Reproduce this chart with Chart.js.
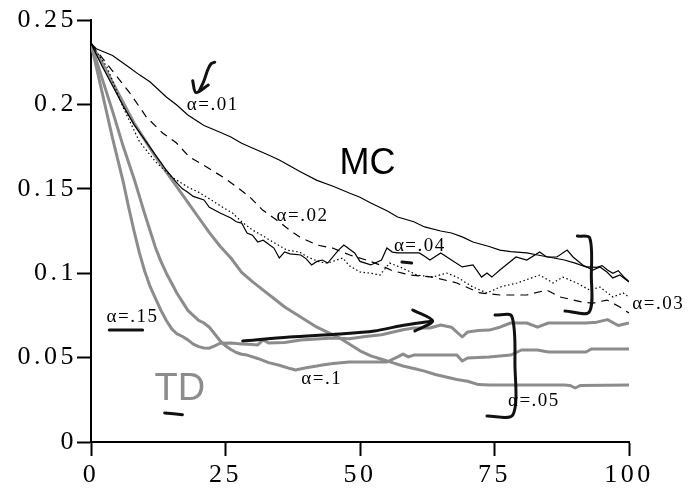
<!DOCTYPE html>
<html>
<head>
<meta charset="utf-8">
<script src="https://cdn.jsdelivr.net/npm/chart.js@4.4.1/dist/chart.umd.min.js"></script>
<style>
  html, body { margin: 0; padding: 0; background: #fff; }
  #wrap { width: 697px; height: 500px; }
</style>
</head>
<body>
<div id="wrap"><canvas id="chart" width="697" height="500"></canvas></div>
<script>
const xTickLabels = ['0', '25', '50', '75', '100'];
const yTickLabels = ['0', '0.05', '0.1', '0.15', '0.2', '0.25'];

// MC, alpha = .01 (solid)
const mc01Episodes = [0, 1, 4, 7, 9, 11, 14, 16, 18, 21, 24, 26, 28, 30, 33, 35, 37, 39, 42, 45, 48, 50, 52, 55, 57, 60, 62, 65, 67, 69, 71, 74, 76, 78, 81, 83, 86, 88, 90, 92, 94, 95, 96, 97, 98, 99, 100];
const mc01Values = [0.236, 0.233, 0.229, 0.2222, 0.2175, 0.2133, 0.2044, 0.1995, 0.1937, 0.1875, 0.1835, 0.1807, 0.177, 0.1742, 0.170, 0.1671, 0.1635, 0.160, 0.155, 0.1515, 0.1475, 0.145, 0.1416, 0.137, 0.1333, 0.1305, 0.1274, 0.125, 0.1238, 0.1215, 0.1185, 0.1158, 0.1137, 0.1128, 0.112, 0.1108, 0.109, 0.1078, 0.106, 0.1037, 0.1035, 0.1045, 0.1019, 0.100, 0.1015, 0.098, 0.095];

// MC, alpha = .02 (dashed)
const mc02Episodes = [0, 3.4, 7.2, 10.3, 13.3, 15.9, 18.3, 21.5, 24.5, 27.1, 29.5, 31.9, 34.5, 36.9, 38.8, 42, 44.9, 48.1, 51, 53.7, 56, 59.3, 63.5, 68, 72.3, 76, 81, 84.7, 87.2, 91.4, 93.3, 95.9, 98.3, 100];
const mc02Values = [0.236, 0.2222, 0.2068, 0.1925, 0.1831, 0.1771, 0.1688, 0.1629, 0.157, 0.1511, 0.1452, 0.1374, 0.1315, 0.1256, 0.1214, 0.1167, 0.1149, 0.1108, 0.108, 0.1049, 0.1015, 0.0989, 0.0977, 0.0942, 0.0883, 0.0871, 0.0871, 0.090, 0.0859, 0.0829, 0.0823, 0.0841, 0.080, 0.0764];

// MC, alpha = .03 (dotted)
const mc03Episodes = [0, 3, 6, 9, 12, 15, 18, 20, 21.5, 24, 26.3, 28, 30, 32, 33.8, 36.4, 38.8, 40, 42.5, 44, 46.8, 48, 50, 52, 53.7, 55.5, 57.4, 60.6, 63.5, 66.1, 68, 71, 73.6, 76, 79.2, 83.4, 85.9, 87.7, 90.3, 92.7, 94.6, 97, 98.9, 100];
const mc03Values = [0.236, 0.222, 0.198, 0.178, 0.166, 0.157, 0.151, 0.148, 0.1451, 0.140, 0.1357, 0.1305, 0.1256, 0.122, 0.1185, 0.1137, 0.1125, 0.110, 0.1066, 0.106, 0.109, 0.1045, 0.1007, 0.100, 0.0989, 0.106, 0.1037, 0.0989, 0.0977, 0.1001, 0.0977, 0.0918, 0.0883, 0.0918, 0.0942, 0.0989, 0.0942, 0.0977, 0.0942, 0.090, 0.0918, 0.0859, 0.0883, 0.0859];

// MC, alpha = .04 (solid)
const mc04Episodes = [0, 2, 4, 6, 8, 10, 12, 14, 16, 17, 18, 19, 21, 22, 24, 26, 27, 28, 29, 30, 31, 32, 34, 35, 36, 37, 39, 40, 41, 42, 43, 44, 46, 47, 49, 50, 51, 52, 54, 55, 56, 57, 59, 61, 62, 63, 65, 67, 69, 71, 72.6, 73.6, 74.5, 76, 79, 81, 83.4, 84.7, 86.6, 88.5, 89.6, 91.4, 93.3, 94.6, 95.9, 97, 98.3, 100];
const mc04Values = [0.236, 0.223, 0.211, 0.199, 0.188, 0.179, 0.170, 0.161, 0.1534, 0.150, 0.148, 0.1455, 0.1434, 0.139, 0.1357, 0.1327, 0.1305, 0.1297, 0.1238, 0.1225, 0.1185, 0.1195, 0.1149, 0.109, 0.1126, 0.1115, 0.1108, 0.1085, 0.1049, 0.107, 0.1078, 0.106, 0.1137, 0.1167, 0.112, 0.107, 0.106, 0.1049, 0.1078, 0.1149, 0.1125, 0.112, 0.112, 0.112, 0.110, 0.1078, 0.112, 0.1078, 0.1037, 0.1049, 0.0977, 0.1001, 0.0977, 0.1019, 0.1096, 0.1078, 0.1126, 0.1096, 0.1096, 0.1137, 0.1096, 0.1049, 0.1019, 0.1037, 0.1007, 0.0972, 0.0989, 0.0948];

// TD, alpha = .15
const td15Episodes = [0, 1, 2, 3, 4, 5, 6, 7, 8, 9, 10, 11, 12, 13, 14, 15, 16, 17, 18, 19, 20, 21, 22, 23, 24, 26, 28, 30, 31, 32, 33, 36, 39, 42, 45, 48, 51, 54, 56, 58, 60, 63, 65, 67, 69, 70, 72, 74, 76, 78, 81, 83, 85, 88, 92, 94, 96, 98, 100];
const td15Values = [0.236, 0.222, 0.208, 0.194, 0.180, 0.167, 0.154, 0.139, 0.125, 0.112, 0.101, 0.092, 0.085, 0.078, 0.072, 0.067, 0.064, 0.0625, 0.0605, 0.058, 0.0565, 0.0557, 0.0556, 0.057, 0.0585, 0.0586, 0.058, 0.0577, 0.0575, 0.0605, 0.0586, 0.059, 0.0604, 0.061, 0.0616, 0.0612, 0.0625, 0.0635, 0.065, 0.0665, 0.0675, 0.0675, 0.0693, 0.068, 0.0622, 0.0652, 0.066, 0.0663, 0.068, 0.0705, 0.0705, 0.068, 0.0705, 0.0705, 0.0705, 0.071, 0.0725, 0.069, 0.0705];

// TD, alpha = .1
const td10Episodes = [0, 2, 4, 6, 8, 10, 11, 12, 13, 14, 15, 16, 17, 18, 19, 20, 21, 22, 23, 24, 25, 26, 27, 28, 29, 31, 33, 35, 37, 38, 40, 42, 43, 45, 48, 52, 55, 57, 58, 59, 60, 64, 68, 69, 70, 74, 78, 80, 83, 85, 92, 93, 100];
const td10Values = [0.236, 0.216, 0.196, 0.175, 0.156, 0.135, 0.125, 0.115, 0.107, 0.100, 0.094, 0.088, 0.083, 0.078, 0.075, 0.072, 0.0705, 0.068, 0.064, 0.060, 0.057, 0.0548, 0.053, 0.052, 0.0515, 0.0495, 0.047, 0.0455, 0.0435, 0.0427, 0.044, 0.045, 0.0456, 0.0465, 0.0474, 0.0474, 0.0474, 0.0504, 0.0521, 0.0504, 0.0515, 0.0515, 0.0515, 0.048, 0.0498, 0.0504, 0.0515, 0.0545, 0.0545, 0.0533, 0.0533, 0.0551, 0.0551];

// TD, alpha = .05
const td05Episodes = [0, 2, 4, 6, 8, 10, 12, 14, 16, 18, 20, 22, 24, 26, 28, 30, 32, 34, 36, 38, 40, 42, 44, 46, 48, 50, 52, 54, 56, 58, 60, 62, 64, 66, 68, 70, 72, 74, 80, 88, 89, 90, 91, 100];
const td05Values = [0.236, 0.225, 0.213, 0.201, 0.189, 0.179, 0.169, 0.160, 0.151, 0.142, 0.133, 0.124, 0.116, 0.109, 0.1005, 0.095, 0.090, 0.085, 0.080, 0.076, 0.072, 0.068, 0.065, 0.062, 0.058, 0.054, 0.051, 0.049, 0.047, 0.045, 0.0435, 0.042, 0.040, 0.0385, 0.037, 0.036, 0.034, 0.0338, 0.0338, 0.0338, 0.0335, 0.032, 0.0335, 0.0338];

// hand-drawn pen marks, in episode / error units
const arrowShaft = [[28.2, 0.0598], [36.9, 0.0622], [46.2, 0.064], [52.7, 0.0658], [57.4, 0.0687], [63.5, 0.0717]];
const arrowHead = [[59.8, 0.0782], [63.5, 0.0717], [60.2, 0.0658]];
const bracketMc = [[90.4, 0.122], [92.7, 0.1209], [93.0, 0.0989], [92.6, 0.077], [88.1, 0.0776]];
const bracketTd = [[75.1, 0.0752], [78.2, 0.0746], [78.8, 0.0456], [78.4, 0.016], [73.6, 0.0154]];
const underline15 = [[3.4, 0.0664], [9.6, 0.0664]];
const underlineTd = [[13.7, 0.0172], [17.0, 0.0162]];
const underline04 = [[57.8, 0.1066], [59.6, 0.106]];
const squiggle = [[23.0, 0.2250], [22.3, 0.2240], [21.7, 0.2205], [21.0, 0.2140], [20.2, 0.2085]];
const squiggleTip = [[18.9, 0.2140], [19.5, 0.2070], [21.8, 0.2115]];

// text labels: text, episode, error (left / baseline anchor)
const noteLabels = [
    { text: 'α=.01', ep: 17.8, val: 0.1967, kind: 'alpha' },
    { text: 'α=.02', ep: 34.5, val: 0.131, kind: 'alpha' },
    { text: 'α=.04', ep: 56.3, val: 0.1131, kind: 'alpha' },
    { text: 'α=.03', ep: 100.6, val: 0.0788, kind: 'alpha' },
    { text: 'α=.15', ep: 2.9, val: 0.0711, kind: 'alpha' },
    { text: 'α=.1', ep: 39.1, val: 0.0344, kind: 'alpha' },
    { text: 'α=.05', ep: 77.5, val: 0.0213, kind: 'alpha' },
    { text: 'MC', ep: 46.2, val: 0.1588, kind: 'mc' },
    { text: 'TD', ep: 11.8, val: 0.0249, kind: 'td' }
];

const GRAY = '#8c8c8c';
const INK = '#111111';

const labelStyles = {
    alpha: { font: '19px "Liberation Serif"', color: '#000', spacing: '1.5px' },
    mc: { font: '36px "Liberation Sans"', color: '#000', spacing: '0px' },
    td: { font: '38px "Liberation Sans"', color: GRAY, spacing: '0px' }
};

function toPoints(eps, vals) {
    return eps.map((e, i) => ({ x: e, y: vals[i] }));
}

function pairsToPoints(pairs) {
    return pairs.map(p => ({ x: p[0], y: p[1] }));
}

function penMark(pairs) {
    return {
        data: pairsToPoints(pairs),
        borderColor: INK,
        borderWidth: 3,
        borderCapStyle: 'round',
        borderJoinStyle: 'round',
        tension: 0.3,
        pointRadius: 0
    };
}

function mcLine(eps, vals, dash) {
    return {
        data: toPoints(eps, vals),
        borderColor: '#000',
        borderWidth: 1.2,
        borderDash: dash,
        pointRadius: 0,
        tension: 0
    };
}

function tdLine(eps, vals) {
    return {
        data: toPoints(eps, vals),
        borderColor: GRAY,
        borderWidth: 3,
        borderJoinStyle: 'round',
        pointRadius: 0,
        tension: 0
    };
}

const notesPlugin = {
    id: 'notes',
    beforeDraw(chart) {
        // tick labels in the figure are widely tracked
        chart.ctx.letterSpacing = '3.5px';
    },
    afterDatasetsDraw(chart) {
        const { ctx, scales } = chart;
        noteLabels.forEach(l => {
            const st = labelStyles[l.kind];
            ctx.save();
            ctx.font = st.font;
            ctx.fillStyle = st.color;
            ctx.letterSpacing = st.spacing;
            ctx.textAlign = 'left';
            ctx.textBaseline = 'alphabetic';
            ctx.fillText(l.text, scales.x.getPixelForValue(l.ep), scales.y.getPixelForValue(l.val));
            ctx.restore();
        });
    }
};

const axisGrid = {
    drawOnChartArea: false,
    drawTicks: true,
    tickLength: 14,
    tickWidth: 2,
    tickColor: '#000'
};

new Chart(document.getElementById('chart'), {
    type: 'line',
    data: {
        datasets: [
            penMark(arrowShaft),
            penMark(arrowHead),
            penMark(bracketMc),
            penMark(bracketTd),
            penMark(underline15),
            penMark(underlineTd),
            penMark(underline04),
            penMark(squiggle),
            penMark(squiggleTip),
            mcLine(mc01Episodes, mc01Values, []),
            mcLine(mc02Episodes, mc02Values, [8, 6]),
            mcLine(mc03Episodes, mc03Values, [1.5, 2.5]),
            mcLine(mc04Episodes, mc04Values, []),
            tdLine(td15Episodes, td15Values),
            tdLine(td10Episodes, td10Values),
            tdLine(td05Episodes, td05Values)
        ]
    },
    options: {
        responsive: false,
        animation: false,
        devicePixelRatio: 1,
        layout: { padding: { top: 20, right: 68, left: 0, bottom: 0 } },
        plugins: {
            legend: { display: false },
            tooltip: { enabled: false }
        },
        scales: {
            x: {
                type: 'linear',
                min: 0,
                max: 100,
                grid: axisGrid,
                border: { display: true, color: '#000', width: 2 },
                ticks: {
                    stepSize: 25,
                    color: '#000',
                    padding: 4,
                    maxRotation: 0,
                    font: { family: '"Liberation Serif"', size: 26 },
                    callback: (v, i) => xTickLabels[i]
                },
                afterFit: s => { s.height = 58; }
            },
            y: {
                min: 0,
                max: 0.25,
                grid: axisGrid,
                border: { display: true, color: '#000', width: 2 },
                ticks: {
                    stepSize: 0.05,
                    color: '#000',
                    padding: 0,
                    font: { family: '"Liberation Serif"', size: 26 },
                    callback: (v, i) => yTickLabels[i]
                },
                afterFit: s => { s.width = 91; }
            }
        }
    },
    plugins: [notesPlugin]
});
</script>
</body>
</html>
